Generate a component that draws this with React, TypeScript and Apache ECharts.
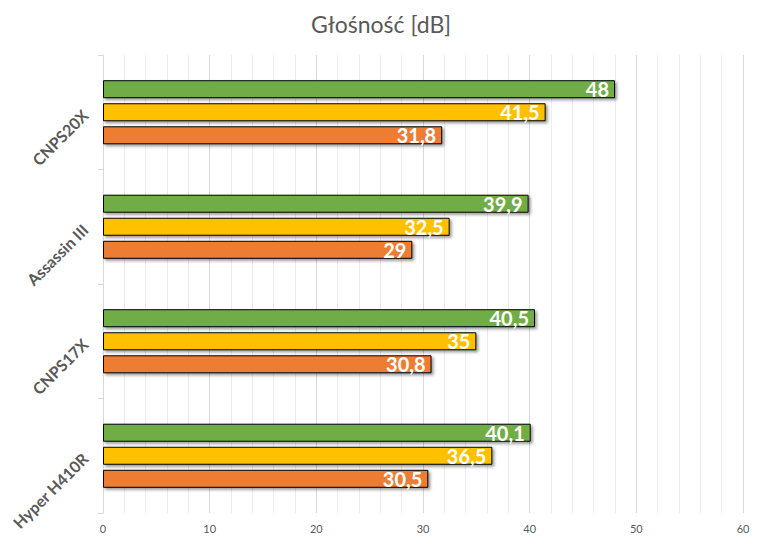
import React, { useEffect, useRef } from "react";
import * as echarts from "echarts";

const categories = ["CNPS20X", "Assassin III", "CNPS17X", "Hyper H410R"];
const seriesGreen = [48, 39.9, 40.5, 40.1];
const seriesYellow = [41.5, 32.5, 35, 36.5];
const seriesOrange = [31.8, 29, 30.8, 30.5];
const xTicks = { min: 0, max: 60, interval: 10 };
const titleText = "Głośność [dB]";

const FONT = "Lato, 'Open Sans', sans-serif";

export default function App() {
  const ref = useRef<HTMLDivElement>(null);
  useEffect(() => {
    if (!ref.current) return;
    const chart = echarts.init(ref.current, null, { renderer: "svg" });
    const mk = (name: string, data: number[], color: string) => ({
      name,
      type: "bar",
      data,
      barWidth: 18,
      barGap: "28%",
      itemStyle: {
        color,
        borderColor: "#000",
        borderWidth: 1,
        shadowColor: "rgba(0,0,0,0.4)",
        shadowBlur: 3,
        shadowOffsetX: 2,
        shadowOffsetY: 2,
      },
      label: {
        show: true,
        position: "insideRight",
        distance: 6,
        color: "#fff",
        fontFamily: FONT,
        fontWeight: "bold",
        fontSize: 20,
        formatter: (p: any) => String(p.value).replace(".", ","),
      },
    });
    chart.setOption({
      animation: false,
      backgroundColor: "#fff",
      title: {
        text: titleText,
        left: "center",
        top: 7,
        textStyle: { color: "#595959", fontFamily: FONT, fontWeight: "normal", fontSize: 23 },
      },
      grid: { left: 103, right: 19, top: 55, bottom: 31 },
      xAxis: {
        type: "value",
        min: xTicks.min,
        max: xTicks.max,
        interval: xTicks.interval,
        axisLine: { show: false },
        axisTick: { show: false },
        axisLabel: { color: "#595959", fontFamily: FONT, fontSize: 11, margin: 10 },
        splitLine: { show: true, lineStyle: { color: "#d9d9d9", width: 1 } },
        minorTick: { show: false, splitNumber: 5 },
        minorSplitLine: { show: true, lineStyle: { color: "#ececec", width: 1 } },
      },
      yAxis: {
        type: "category",
        data: categories,
        inverse: true,
        axisLine: { show: true, lineStyle: { color: "#d9d9d9" } },
        axisTick: { show: true, length: 5, lineStyle: { color: "#d9d9d9" } },
        axisLabel: {
          rotate: 45,
          margin: 18,
          color: "#595959",
          fontFamily: FONT,
          fontWeight: "bold",
          fontSize: 16,
        },
      },
      series: [
        mk("A", seriesGreen, "#70AD47"),
        mk("B", seriesYellow, "#FFC000"),
        mk("C", seriesOrange, "#ED7D31"),
      ],
    });
    return () => chart.dispose();
  }, []);
  return <div ref={ref} style={{ width: 762, height: 544, position: "absolute", left: 0, top: 0 }} />;
}
